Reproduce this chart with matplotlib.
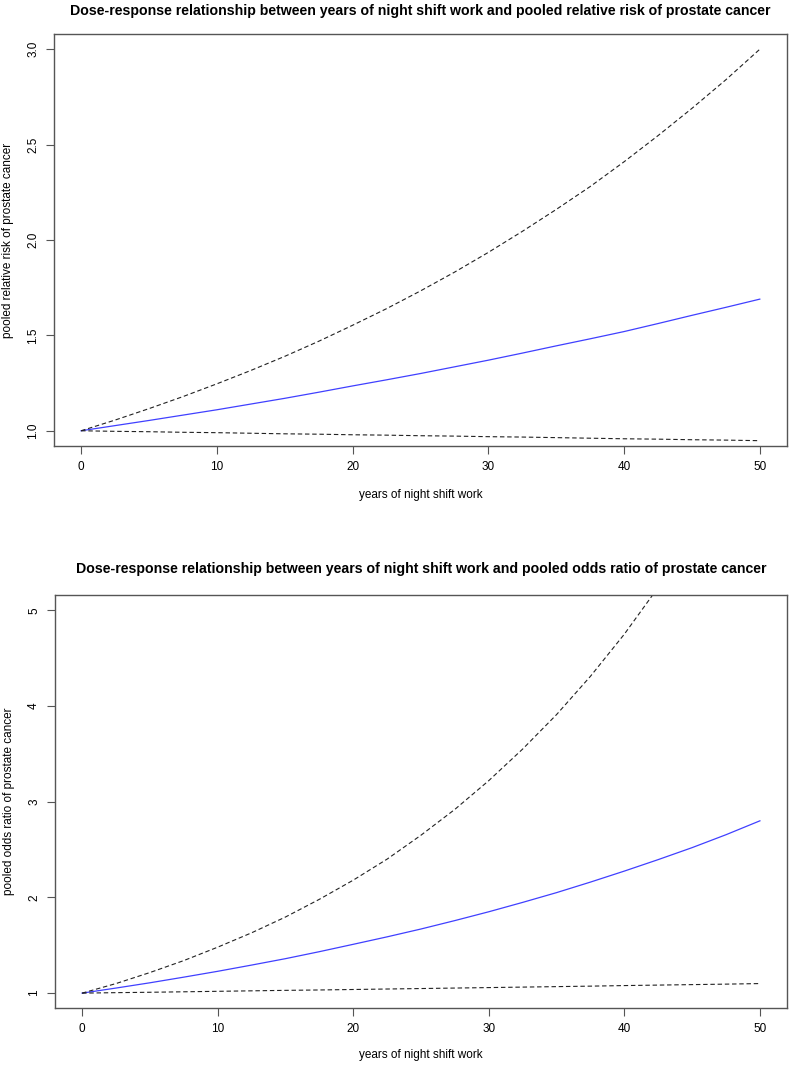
import matplotlib
matplotlib.use("Agg")
import matplotlib.pyplot as plt

plt.rcParams['font.family'] = ['Liberation Sans', 'DejaVu Sans']

# values, every 2.5 years
years = [0, 2.5, 5, 7.5, 10, 12.5, 15, 17.5, 20, 22.5, 25,
         27.5, 30, 32.5, 35, 37.5, 40, 42.5, 45, 47.5, 50]

rr_est = [1.00, 1.027, 1.054, 1.082, 1.11, 1.14, 1.17, 1.202, 1.235, 1.267, 1.30,
          1.335, 1.37, 1.407, 1.445, 1.482, 1.52, 1.562, 1.605, 1.647, 1.69]
rr_upper = [1.00, 1.056, 1.116, 1.179, 1.246, 1.316, 1.39, 1.469, 1.553, 1.64, 1.733,
            1.831, 1.935, 2.045, 2.16, 2.28, 2.41, 2.547, 2.69, 2.84, 3.00]
rr_lower = [1.00, 0.997, 0.995, 0.992, 0.99, 0.987, 0.984, 0.982, 0.979, 0.977, 0.974,
            0.972, 0.969, 0.967, 0.964, 0.961, 0.958, 0.956, 0.953, 0.951, 0.948]

or_est = [1.00, 1.053, 1.108, 1.167, 1.228, 1.293, 1.36, 1.433, 1.51, 1.588, 1.67,
          1.758, 1.85, 1.948, 2.05, 2.16, 2.275, 2.395, 2.52, 2.655, 2.80]
or_upper = [1.00, 1.10, 1.215, 1.34, 1.48, 1.63, 1.795, 1.98, 2.18, 2.40, 2.65,
            2.92, 3.22, 3.55, 3.91, 4.31, 4.75, 5.24, 5.78, 6.37, 7.03]
or_lower = [1.00, 1.005, 1.009, 1.014, 1.019, 1.024, 1.029, 1.033, 1.038, 1.043, 1.048,
            1.053, 1.058, 1.063, 1.068, 1.073, 1.079, 1.084, 1.089, 1.094, 1.10]

x_ticks = [0, 10, 20, 30, 40, 50]
rr_ticks = [1.0, 1.5, 2.0, 2.5, 3.0]
rr_labels = ['1.0', '1.5', '2.0', '2.5', '3.0']
or_ticks = [1, 2, 3, 4, 5]

fig = plt.figure(figsize=(7.89, 10.65), dpi=100)
ax1 = fig.add_axes([0.0684, 0.5812, 0.929, 0.3869])
ax2 = fig.add_axes([0.0697, 0.0531, 0.9278, 0.3883])

spine_col = '#555555'


def panel(ax, est, up, lo, ylim, yticks, ylabels, ylab, title, tpad, xlab_y):
    ax.plot(years, est, color='#4040ff', lw=0.9)
    ax.plot(years, up, color='#222222', lw=0.8, ls=(0, (4, 2.5)))
    ax.plot(years, lo, color='#222222', lw=0.8, ls=(0, (4, 2.5)))
    ax.set_xlim(-2, 52)
    ax.set_ylim(*ylim)
    ax.set_xticks(x_ticks)
    ax.set_yticks(yticks)
    ax.set_yticklabels(ylabels, rotation=90, va='center')
    ax.tick_params(direction='out', length=6, width=0.8, color=spine_col,
                   labelsize=8.5, pad=4.7)
    for s in ax.spines.values():
        s.set_color(spine_col)
        s.set_linewidth(1.0)
    ax.set_xlabel('years of night shift work', fontsize=8.5, va='center')
    ax.xaxis.set_label_coords(0.5, xlab_y)
    ax.set_ylabel(ylab, fontsize=8.5, va='center')
    ax.yaxis.set_label_coords(-0.063, 0.5)
    ax.set_title(title, fontsize=10.2, fontweight='bold', pad=tpad)


panel(ax1, rr_est, rr_upper, rr_lower, (0.92, 3.08), rr_ticks, rr_labels,
      'pooled relative risk of prostate cancer',
      'Dose-response relationship between years of night shift work and pooled relative risk of prostate cancer',
      13.5, -0.119)
panel(ax2, or_est, or_upper, or_lower, (0.84, 5.16), or_ticks,
      [str(t) for t in or_ticks],
      'pooled odds ratio of prostate cancer',
      'Dose-response relationship between years of night shift work and pooled odds ratio of prostate cancer',
      16, -0.112)

fig.savefig('out.png', dpi=100)
